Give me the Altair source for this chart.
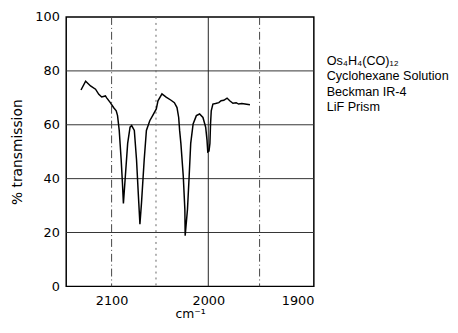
import altair as alt
import pandas as pd

# spectrum trace (wavenumber cm^-1, % transmission)
wavenumber = [2133.7, 2128.6, 2123.2, 2117.7, 2114.1, 2110.9, 2106.8, 2105.4, 2101.4,
              2097.8, 2094.8, 2093.3, 2091.4, 2089.2, 2087.8, 2086.7, 2084.8, 2081.9,
              2079.2, 2077.4, 2074.4, 2071.9, 2070.0, 2068.1, 2066.3, 2063.3, 2060.8,
              2057.0, 2053.3, 2049.7, 2048.1, 2044.3, 2040.3, 2035.6, 2032.4, 2029.9,
              2028.3, 2027.4, 2026.2, 2023.9, 2022.4, 2022.1, 2019.9, 2018.3, 2016.8,
              2014.5, 2011.4, 2008.3, 2005.1, 2002.5, 2001.2, 2000.5, 1999.3, 1998.4,
              1997.8, 1997.1, 1995.5, 1993.0, 1989.7, 1987.5, 1984.9, 1981.7, 1979.1,
              1976.0, 1972.8, 1970.5, 1967.3, 1964.2, 1959.4]
transmission = [72.9, 76.2, 74.4, 73.2, 71.3, 70.3, 70.7, 70.0, 68.2,
                66.4, 65.2, 63.4, 57.9, 46.9, 38.5, 30.8, 39.6, 53.1,
                59.1, 59.7, 57.9, 46.9, 34.8, 23.1, 31.1, 46.9, 57.9,
                61.5, 63.7, 65.9, 68.9, 71.5, 70.3, 69.1, 68.2, 66.4,
                62.7, 57.9, 53.1, 40.8, 28.6, 18.8, 28.6, 40.8, 53.1,
                60.3, 63.4, 64.0, 62.7, 59.1, 54.2, 49.9, 50.2, 53.1,
                60.3, 65.2, 67.7, 67.9, 68.2, 68.9, 69.1, 69.9, 68.9,
                68.0, 68.2, 67.7, 67.9, 67.7, 67.4]

x_ticks = [2100, 2000, 1900]
y_ticks = [0, 20, 40, 60, 80, 100]
h_grid = [20, 40, 60, 80]
v_grid_solid = [2000]
v_grid_dashed = [2100, 1950]
v_grid_dotted = [2050]
note_lines = ["Os₄H₄(CO)₁₂", "Cyclohexane Solution", "Beckman IR-4", "LiF Prism"]

FONT = "DejaVu Sans"
NOTE_FONT = "Liberation Sans"
W, H = 251, 273

# prism (non-linear) wavenumber scale, piecewise linear
xscale = alt.Scale(domain=[2150, 2100, 2050, 2000, 1950, 1900],
                   range=[0, 46, 91, 144, 196, 251], nice=False, zero=False)
yscale = alt.Scale(domain=[0, 100], nice=False, zero=True)

spec = pd.DataFrame({"wn": wavenumber, "t": transmission})

line = alt.Chart(spec).mark_line(color="black", strokeWidth=1.5).encode(
    x=alt.X("wn:Q", scale=xscale, sort=None,
            axis=alt.Axis(values=x_ticks, title="cm⁻¹", grid=False, ticks=False,
                          domain=False, labelPadding=8, titlePadding=1,
                          labelFontSize=13, titleFontSize=12.5, titleFontWeight="normal",
                          format="d")),
    y=alt.Y("t:Q", scale=yscale,
            axis=alt.Axis(values=y_ticks, title="% transmission", grid=False,
                          ticks=False, domain=False, labelPadding=7,
                          labelFontSize=13, titleFontSize=14, titleFontWeight="normal",
                          titlePadding=10)),
    order=alt.Order("order:Q"),
).transform_window(order="row_number()")

hg = alt.Chart(pd.DataFrame({"t": h_grid})).mark_rule(color="#333", strokeWidth=1).encode(
    y=alt.Y("t:Q", scale=yscale))
vs = alt.Chart(pd.DataFrame({"wn": v_grid_solid})).mark_rule(color="#222", strokeWidth=1).encode(
    x=alt.X("wn:Q", scale=xscale))
vd = alt.Chart(pd.DataFrame({"wn": v_grid_dashed})).mark_rule(
    color="#444", strokeWidth=1, strokeDash=[8, 3, 1, 3]).encode(x=alt.X("wn:Q", scale=xscale))
vdo = alt.Chart(pd.DataFrame({"wn": v_grid_dotted})).mark_rule(
    color="#666", strokeWidth=1, strokeDash=[2, 4]).encode(x=alt.X("wn:Q", scale=xscale))

note = alt.Chart(pd.DataFrame({"a": [0]})).mark_text(
    align="left", baseline="top", fontSize=12.8, font=NOTE_FONT, lineHeight=15.3, color="black"
).encode(x=alt.value(264), y=alt.value(39), text=alt.value(note_lines))

chart = alt.layer(hg, vs, vd, vdo, line, note).properties(
    width=W, height=H,
    autosize=alt.AutoSizeParams(type="none"),
    padding={"left": 59, "top": 7, "right": 138, "bottom": 37},
).configure_view(stroke="black", strokeWidth=1.5).configure_axis(
    labelColor="black", titleColor="black", labelFont=FONT, titleFont=FONT
)

chart.save("out.html", embed_options={"renderer": "svg", "actions": False})
